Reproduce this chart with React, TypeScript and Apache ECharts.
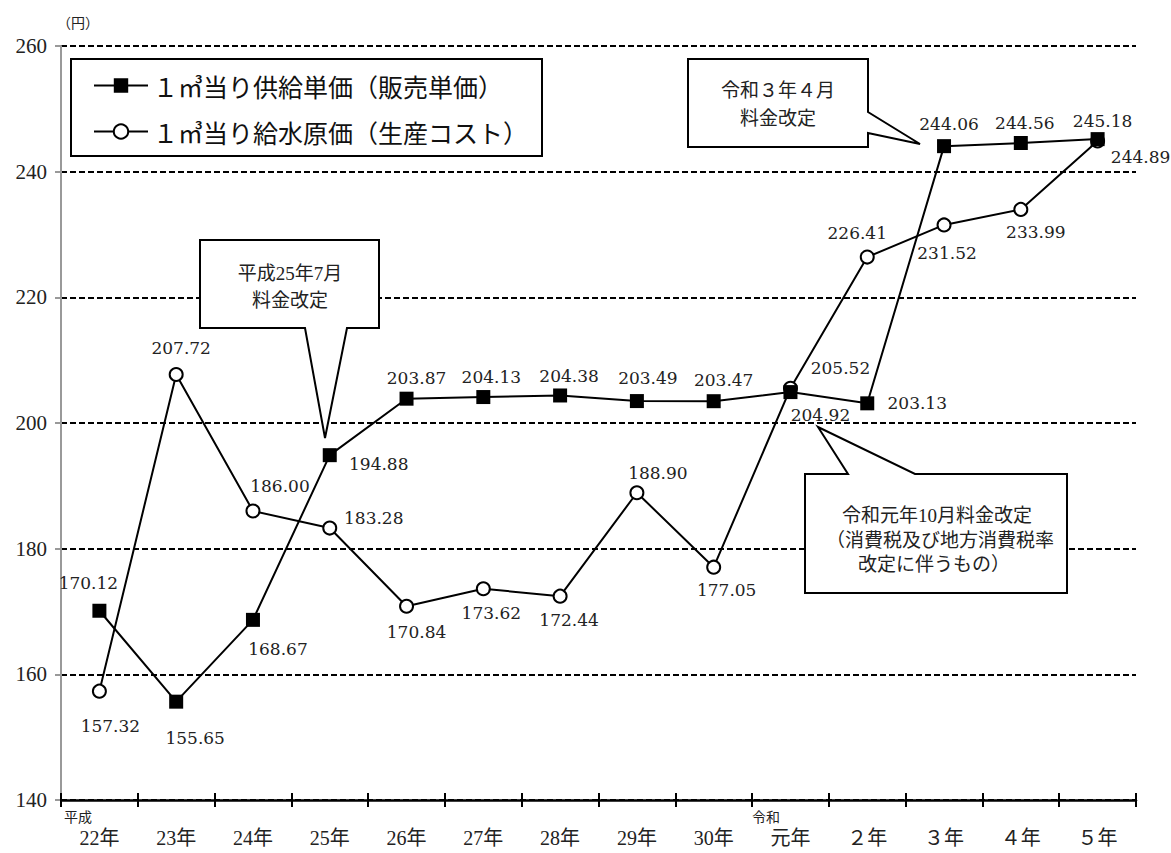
import React, { useEffect, useRef } from "react";
import * as echarts from "echarts";

const categories = ["22年", "23年", "24年", "25年", "26年", "27年", "28年", "29年", "30年", "元年", "２年", "３年", "４年", "５年"];
const supplyName = "１㎥当り供給単価（販売単価）";
const costName = "１㎥当り給水原価（生産コスト）";
const supplyPrice = [170.12, 155.65, 168.67, 194.88, 203.87, 204.13, 204.38, 203.49, 203.47, 204.92, 203.13, 244.06, 244.56, 245.18];
const waterCost = [157.32, 207.72, 186.0, 183.28, 170.84, 173.62, 172.44, 188.9, 177.05, 205.52, 226.41, 231.52, 233.99, 244.89];
const yTicks = { min: 140, max: 260, interval: 20 };

// label offsets (px) from each marker
const supplyLabelOffsets = [[-11, -28], [19, 36], [25, 29], [49, 9], [10, -21], [8, -20], [9, -19], [11, -23], [10, -21], [30, 23], [50, 0], [5, -22], [4, -20], [5, -18]];
const costLabelOffsets = [[11, 35], [5, -26], [27, -25], [44, -10], [10, 26], [8, 24], [9, 24], [21, -20], [13, 23], [50, -20], [-10, -24], [3, 28], [15, 23], [43, 16]];

const SERIF = "'Liberation Serif', 'Noto Sans CJK JP', serif";
const LABEL_FONT = "'DejaVu Serif', 'Noto Sans CJK JP', serif";
const CJK = "'Noto Sans CJK JP', sans-serif";

function withLabels(values: number[], offsets: number[][]) {
  return values.map((v, i) => ({
    value: v,
    label: {
      show: true,
      position: "inside",
      offset: offsets[i],
      formatter: (p: any) => Number(p.value).toFixed(2),
      color: "#222",
      fontSize: 17,
      fontFamily: LABEL_FONT,
      align: "center",
      verticalAlign: "middle",
    },
  }));
}

export default function App() {
  const ref = useRef<HTMLDivElement>(null);
  useEffect(() => {
    if (!ref.current) return;
    const chart = echarts.init(ref.current, null, { renderer: "svg" });
    const calloutStyle = { fill: "#fff", stroke: "#000", lineWidth: 2 };
    const textStyle = (text: string, x: number, y: number, size = 19) => ({
      type: "text",
      x,
      y,
      z: 101,
      style: { text, fontSize: size, fontFamily: SERIF, fill: "#222", textAlign: "center", textVerticalAlign: "middle" },
    });
    chart.setOption({
      animation: false,
      backgroundColor: "#fff",
      grid: { left: 61, right: 35, top: 46, bottom: 53, containLabel: false },
      legend: {
        left: 71,
        top: 59,
        orient: "vertical",
        data: [supplyName, costName],
        borderColor: "#000",
        borderWidth: 2,
        backgroundColor: "#fff",
        borderRadius: 0,
        padding: [14, 14, 12, 22],
        itemWidth: 54,
        itemHeight: 18,
        itemGap: 21,
        itemTextGap: 10,
        textStyle: { fontSize: 25, fontFamily: CJK, color: "#111" },
      },
      xAxis: [
        {
          type: "category",
          data: categories,
          boundaryGap: true,
          axisLine: { lineStyle: { color: "#000", width: 2.5 } },
          axisTick: { show: true, length: 7, lineStyle: { color: "#000", width: 2 } },
          axisLabel: { margin: 28, fontSize: 20, fontFamily: SERIF, color: "#222" },
          splitLine: { show: false },
        },
        {
          type: "category",
          data: categories,
          position: "bottom",
          boundaryGap: true,
          axisLine: { show: false },
          axisTick: { show: true, inside: true, length: 7, lineStyle: { color: "#000", width: 2 } },
          axisLabel: { show: false },
          splitLine: { show: false },
        },
      ],
      yAxis: {
        type: "value",
        min: yTicks.min,
        max: yTicks.max,
        interval: yTicks.interval,
        axisLine: { show: true, lineStyle: { color: "#999", width: 2 } },
        axisTick: { show: true, length: 6, lineStyle: { color: "#999", width: 2 } },
        axisLabel: { fontSize: 21, fontFamily: SERIF, color: "#222", margin: 14 },
        splitLine: { show: true, lineStyle: { color: "#000", width: 2, type: [6, 3] } },
      },
      series: [
        {
          name: costName,
          type: "line",
          data: withLabels(waterCost, costLabelOffsets),
          symbol: "circle",
          symbolSize: 13,
          lineStyle: { color: "#000", width: 2 },
          itemStyle: { color: "#fff", borderColor: "#000", borderWidth: 2 },
          z: 3,
        },
        {
          name: supplyName,
          type: "line",
          data: withLabels(supplyPrice, supplyLabelOffsets),
          symbol: "rect",
          symbolSize: 14,
          lineStyle: { color: "#000", width: 2 },
          itemStyle: { color: "#000" },
          z: 4,
        },
      ],
      graphic: [
        { type: "text", left: 57, top: 15, style: { text: "（円）", fontSize: 14, fontFamily: CJK, fill: "#222" } },
        { type: "text", x: 64, y: 809, style: { text: "平成", fontSize: 14, fontFamily: CJK, fill: "#222" } },
        { type: "text", x: 752, y: 809, style: { text: "令和", fontSize: 14, fontFamily: CJK, fill: "#222" } },
        {
          type: "polygon",
          z: 100,
          shape: { points: [[200, 240], [379, 240], [379, 328], [347, 328], [325, 438], [305, 328], [200, 328]] },
          style: calloutStyle,
        },
        textStyle("平成25年7月", 290, 273),
        textStyle("料金改定", 290, 300),
        {
          type: "polygon",
          z: 100,
          shape: { points: [[688, 59], [868, 59], [868, 112], [920, 144], [868, 133], [868, 147], [688, 147]] },
          style: calloutStyle,
        },
        textStyle("令和３年４月", 778, 90),
        textStyle("料金改定", 778, 118),
        {
          type: "polygon",
          z: 100,
          shape: { points: [[805, 474], [848, 474], [818, 427], [915, 474], [1067, 474], [1067, 593], [805, 593]] },
          style: calloutStyle,
        },
        textStyle("令和元年10月料金改定", 937, 515),
        textStyle("（消費税及び地方消費税率", 940, 540),
        textStyle("改定に伴うもの）", 934, 564),
      ],
    });
    return () => chart.dispose();
  }, []);
  return <div ref={ref} style={{ position: "fixed", left: 0, top: 0, width: 1171, height: 853 }} />;
}
